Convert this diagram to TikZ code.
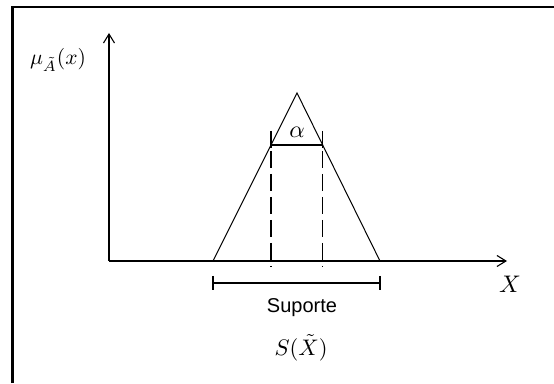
\documentclass[tikz,border=0pt]{standalone}
\usepackage{fontspec}
\newfontfamily\suporfont{Liberation Sans}
\usetikzlibrary{arrows.meta}
\newcommand{\bigmathlbl}[2][2.0]{\scalebox{#1}{$#2$}}
\begin{document}
\begin{tikzpicture}[x=1pt,y=1pt,
  axis/.style={line width=1.3pt,-{Straight Barb[length=9pt,width=11pt,line width=1.1pt]}},
  curve/.style={line width=1pt},
  cutline/.style={line width=1.2pt},
  dashline/.style={line width=1.1pt,dash pattern=on 17pt off 6pt},
  bar/.style={line width=1.4pt},
  mathlbl/.style={inner sep=0pt},
  txtlbl/.style={inner sep=0pt,font=\suporfont\fontsize{20}{24}\selectfont}]
\useasboundingbox (0,0) rectangle (554,383);
% frame
\draw[line width=2.2pt] (12.5,0) -- (12.5,376) -- (554,376);
% axes
\coordinate (O) at (109,122);
\coordinate (Ytop) at (109,350);
\coordinate (Xend) at (507,122);
\draw[axis] (O) -- (Ytop);
\draw[axis] (O) -- (Xend);
% triangle
\coordinate (L) at (213,122);
\coordinate (P) at (297,290);
\coordinate (R) at (380,122);
\draw[curve] (L) -- (P) -- (R);
% alpha cut
\coordinate (aL) at (271,238);
\coordinate (aR) at (322.5,238);
\coordinate (aLt) at (271,252);
\coordinate (aRt) at (322.5,252);
\coordinate (aLb) at (271,235);
\coordinate (aRb) at (322.5,235);
\coordinate (aLd) at (271,232);
\coordinate (aRd) at (322.5,232);
\coordinate (aLe) at (271,116);
\coordinate (aRe) at (322.5,116);
\draw[cutline] (aL) -- (aR);
\draw[cutline] (aLt) -- (aLb);
\draw[cutline] (aRt) -- (aRb);
\draw[dashline] (aLd) -- (aLe);
\draw[dashline] (aRd) -- (aRe);
% support bar
\coordinate (sL) at (213,100);
\coordinate (sR) at (380,100);
\coordinate (sLt) at (213,107);
\coordinate (sLb) at (213,93);
\coordinate (sRt) at (380,107);
\coordinate (sRb) at (380,93);
\draw[bar] (sL) -- (sR);
\draw[bar] (sLt) -- (sLb);
\draw[bar] (sRt) -- (sRb);
% labels
\node[mathlbl] (mu) at (58,323) {\bigmathlbl[2.15]{\mu_{\tilde{A}}(x)}};
\node[mathlbl] (alpha) at (297,251) {\bigmathlbl[2.4]{\alpha}};
\node[mathlbl] (xl) at (510,99) {\bigmathlbl[2.4]{X}};
\node[txtlbl] (sup) at (302,75) {Suporte};
\node[mathlbl] (sx) at (301,35) {\bigmathlbl[2.25]{S(\tilde{X})}};
\end{tikzpicture}
\end{document}
